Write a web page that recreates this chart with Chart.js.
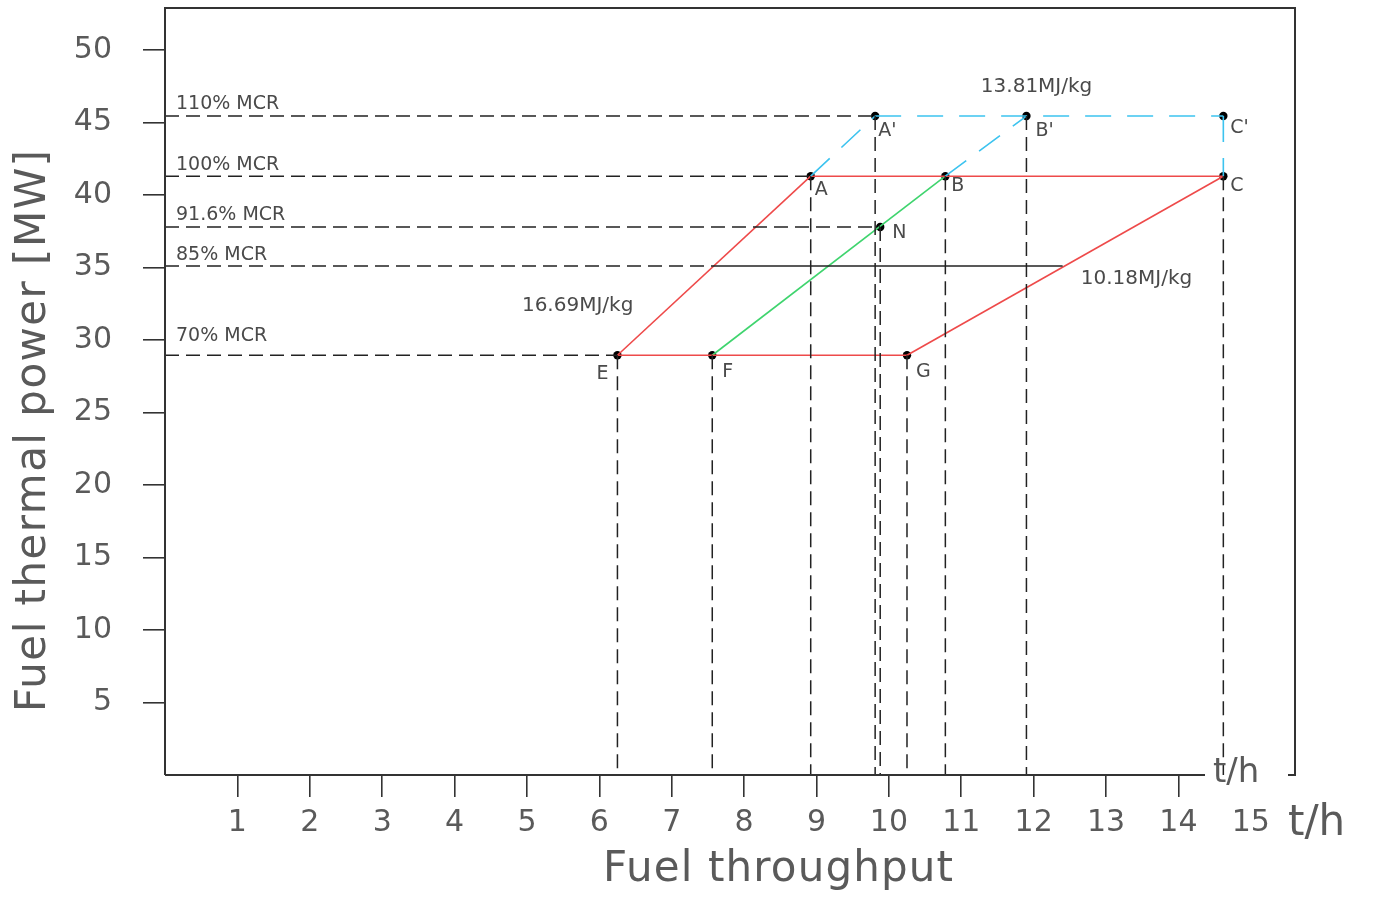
<!DOCTYPE html>
<html><head><meta charset="utf-8">
<script src="https://cdn.jsdelivr.net/npm/chart.js@4.4.0/dist/chart.umd.min.js"></script>
<style>html,body{margin:0;padding:0;background:#fff;}#wrap{width:1373px;height:897px;position:relative}</style>
</head><body><div id="wrap"><canvas id="c" width="1373" height="897"></canvas></div>
<script>
// ---------- DATA ----------
const xTicks = [1,2,3,4,5,6,7,8,9,10,11,12,13,14,15];
const yTicks = [5,10,15,20,25,30,35,40,45,50];
const xTitle = 'Fuel throughput';
const yTitle = 'Fuel thermal power [MW]';
const unitLabel = 't/h';

// operating points (t/h, MW)
const pointNames = ['A','B','C',"A'","B'","C'",'N','E','F','G'];
const pointX = [8.92, 10.78, 14.62, 9.81, 11.90, 14.62, 9.88, 6.25, 7.56, 10.25];
const pointY = [41.3, 41.3, 41.3, 45.45, 45.45, 45.45, 37.8, 28.95, 28.95, 28.95];

// MCR reference levels
const mcrLabels = ['110% MCR','100% MCR','91.6% MCR','85% MCR','70% MCR'];
const mcrLevels = [45.45, 41.3, 37.8, 35.1, 28.95];
const mcrEndPoint = ["A'", 'A', 'N', null, 'E'];
const mcr85DashedEndX = 7.57;   // where the 85% line meets the E-A line
const mcr85SolidEndX = 12.40;   // where the 85% line meets the G-C line

// fuel lower heating values and their lines
const lhvLabels = ['16.69MJ/kg','13.81MJ/kg','10.18MJ/kg'];
const lhvLabelX = [5.70, 12.04, 13.42];
const lhvLabelY = [32.33, 47.44, 34.2];

const redSegments = [['E','A'],['A','C'],['E','G'],['G','C']];
const greenSegments = [['F','B']];
const cyanSegments = [['A',"A'"],['B',"B'"],["A'","C'"],["C'",'C']];
const dropLinePoints = ['E','F','A',"A'",'N','G','B',"B'",'C'];

// ---------- helpers ----------
function P(name){ const i = pointNames.indexOf(name); return {x: pointX[i], y: pointY[i]}; }

const FONT = "'DejaVu Sans', sans-serif";
const BLACK = '#222';
const RED = '#ee4a4a';
const GREEN = '#3fd46e';
const CYAN = '#3cc3ef';
const blackDash = [14, 7];
const cyanDash = [26, 16];

const datasets = [];
function seg(a, b, color, dash, width){
  datasets.push({data:[a,b], showLine:true, borderColor:color, borderWidth:width||1.5,
    borderDash:dash||[], pointRadius:0, fill:false, tension:0});
}
mcrLevels.forEach((lv, i) => {
  if (mcrEndPoint[i]) {
    seg({x:0,y:lv}, {x:P(mcrEndPoint[i]).x, y:lv}, BLACK, blackDash);
  } else {
    seg({x:0,y:lv}, {x:mcr85DashedEndX, y:lv}, BLACK, blackDash);
    seg({x:mcr85DashedEndX,y:lv}, {x:mcr85SolidEndX, y:lv}, BLACK, []);
  }
});
dropLinePoints.forEach(n => { const p = P(n); seg({x:p.x,y:p.y}, {x:p.x,y:0}, BLACK, blackDash); });
cyanSegments.forEach(s => seg(P(s[0]), P(s[1]), CYAN, cyanDash, 1.6));
redSegments.forEach(s => seg(P(s[0]), P(s[1]), RED, [], 1.6));
greenSegments.forEach(s => seg(P(s[0]), P(s[1]), GREEN, [], 1.6));
datasets.push({data: pointNames.map(n => P(n)), showLine:false, pointRadius:4.2,
  pointBackgroundColor:'#000', pointBorderColor:'#000', pointBorderWidth:0});

const pointLabelOffsets = {
  "A'":[3,15,'left'], "B'":[9,15,'left'], "C'":[7,12,'left'],
  'A':[4,14,'left'], 'B':[6,10,'left'], 'C':[7,10,'left'],
  'N':[12,6,'left'], 'E':[-9,19,'right'], 'F':[10,17,'left'], 'G':[9,17,'left']
};
const mcrLabelDy = [-12,-11,-12,-11,-19];

function fitText(ctx, text, x, y, targetW){
  ctx.letterSpacing = '0px';
  const w = ctx.measureText(text).width;
  const n = text.length;
  const ls = (targetW - w) / (n - 1);
  ctx.letterSpacing = ls + 'px';
  ctx.textAlign = 'left';
  ctx.fillText(text, x - targetW/2, y);
  ctx.letterSpacing = '0px';
}

const decor = {
  id:'decor',
  afterDraw(chart){
    const ctx = chart.ctx, xs = chart.scales.x, ys = chart.scales.y, ca = chart.chartArea;
    ctx.save();
    ctx.strokeStyle = '#333'; ctx.lineWidth = 2; ctx.setLineDash([]);
    ctx.beginPath();
    ctx.moveTo(ca.left, ca.bottom); ctx.lineTo(ca.left, ca.top);
    ctx.lineTo(ca.right, ca.top); ctx.lineTo(ca.right, ca.bottom); ctx.lineTo(ca.right-7, ca.bottom);
    ctx.moveTo(ca.left, ca.bottom); ctx.lineTo(ca.left + 1040, ca.bottom);
    ctx.stroke();

    ctx.fillStyle = '#4a4a4a';
    ctx.textBaseline = 'middle';
    ctx.font = '19px ' + FONT; ctx.textAlign = 'left';
    mcrLabels.forEach((t, i) => {
      ctx.fillText(t, xs.getPixelForValue(0) + 11, ys.getPixelForValue(mcrLevels[i]) + mcrLabelDy[i]);
    });
    ctx.font = '19px ' + FONT;
    pointNames.forEach(n => {
      const p = P(n), o = pointLabelOffsets[n];
      ctx.textAlign = o[2];
      ctx.fillText(n, xs.getPixelForValue(p.x) + o[0], ys.getPixelForValue(p.y) + o[1]);
    });
    ctx.font = '20px ' + FONT; ctx.textAlign = 'center';
    lhvLabels.forEach((t, i) => ctx.fillText(t, xs.getPixelForValue(lhvLabelX[i]), ys.getPixelForValue(lhvLabelY[i])));
    ctx.fillStyle = '#5a5a5a';
    ctx.font = '34px ' + FONT; ctx.textAlign = 'left';
    ctx.fillText(unitLabel, ca.left + 1048, ca.bottom - 2);
    ctx.font = '42px ' + FONT;
    ctx.fillText(unitLabel, 1288, 824);
    ctx.font = '42px ' + FONT;
    ctx.textBaseline = 'middle';
    fitText(ctx, xTitle, 778, 870, 350);
    ctx.translate(34, 431); ctx.rotate(-Math.PI/2);
    fitText(ctx, yTitle, 0, 0, 562);
    ctx.restore();
  }
};

new Chart(document.getElementById('c'), {
  type:'scatter',
  data:{datasets},
  options:{
    responsive:false, animation:false,
    layout:{padding:{top:8, right:78, left:0, bottom:0}},
    plugins:{legend:{display:false}, tooltip:{enabled:false}},
    scales:{
      x:{type:'linear', min:0, max:15.61,
        afterBuildTicks: s => { s.ticks = xTicks.map(v => ({value:v})); },
        afterFit: s => { s.height = 122; s.paddingLeft = 0; s.paddingRight = 0; },
        border:{display:false},
        grid:{drawOnChartArea:false, drawTicks:true, tickLength:22, lineWidth:1.6,
          color: c => (c.tick && c.tick.value === 15) ? 'rgba(0,0,0,0)' : '#333'},
        ticks:{padding:8, color:'#5a5a5a', maxRotation:0, autoSkip:false,
          font:{family:FONT, size:30}, callback: v => String(v)}
      },
      y:{type:'linear', min:0, max:52.9,
        afterBuildTicks: s => { s.ticks = yTicks.map(v => ({value:v})); },
        afterFit: s => { s.width = 165; s.paddingTop = 0; s.paddingBottom = 0; },
        border:{display:false},
        grid:{drawOnChartArea:false, drawTicks:true, tickLength:22, lineWidth:1.6, color:'#333'},
        ticks:{padding:31, color:'#5a5a5a', autoSkip:false,
          font:{family:FONT, size:30}, callback: v => String(v)}
      }
    }
  },
  plugins:[decor]
});
</script></body></html>
